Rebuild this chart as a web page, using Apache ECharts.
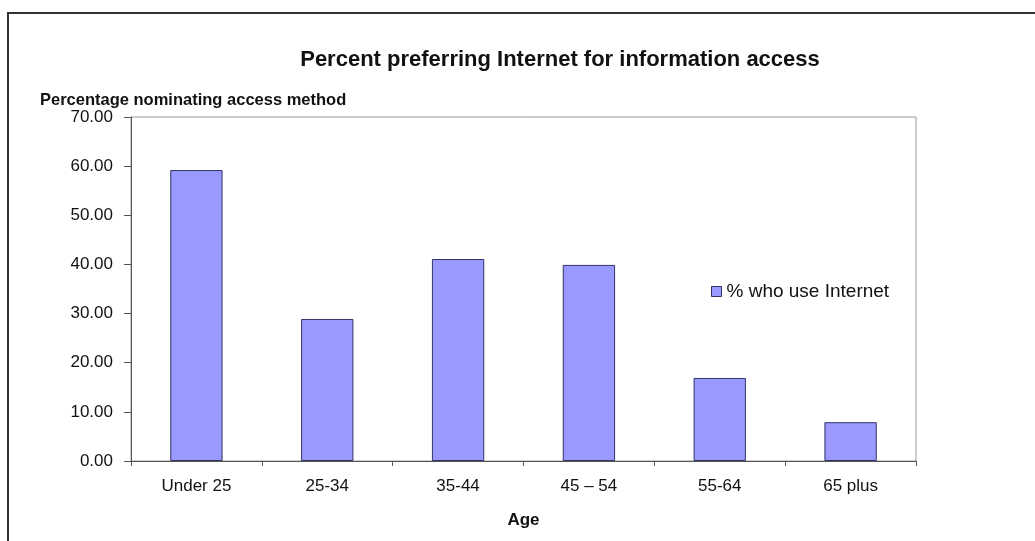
<!DOCTYPE html>
<html style="height: 100%">
   <head>
       <meta charset="utf-8">
   </head>
   <body style="height: 100%; margin: 0; background: #fff">
       <div id="container" style="height: 100%"></div>
       <script type="text/javascript" src="https://cdn.jsdelivr.net/npm/echarts@6/dist/echarts.min.js"></script>
       <script type="text/javascript">
var ages = ['Under 25', '25-34', '35-44', '45 \u2013 54', '55-64', '65 plus'];
var internetPct = [59.2, 28.9, 41.1, 39.9, 16.9, 7.9];
var yTicks = [0, 10, 20, 30, 40, 50, 60, 70];

var dom = document.getElementById("container");
var myChart = echarts.init(dom);
var font = 'Liberation Sans, Arial, sans-serif';
var option = {
    backgroundColor: '#fff',
    animation: false,
    graphic: [{
        type: 'rect',
        shape: {x: 8, y: 13, width: 1040, height: 540},
        style: {fill: 'none', stroke: '#333', lineWidth: 2}
    }],
    title: {
        text: 'Percent preferring Internet for information access',
        left: 555,
        textAlign: 'center',
        top: 44,
        textStyle: {fontFamily: font, fontSize: 22, fontWeight: 'bold', color: '#111'}
    },
    legend: {
        data: ['% who use Internet'],
        left: 706,
        top: 277,
        icon: 'rect',
        itemWidth: 10,
        itemHeight: 10,
        itemGap: 6,
        itemStyle: {borderColor: '#333366', borderWidth: 1},
        textStyle: {fontFamily: font, fontSize: 19, color: '#111'}
    },
    grid: {
        left: 131, right: 119, top: 117, bottom: 80,
        show: true, borderColor: '#999', borderWidth: 1
    },
    xAxis: {
        type: 'category',
        data: ages,
        name: 'Age',
        nameLocation: 'middle',
        nameGap: 51,
        nameTextStyle: {fontFamily: font, fontSize: 17, fontWeight: 'bold', color: '#111'},
        axisLine: {lineStyle: {color: '#555'}},
        axisTick: {show: true, length: 5, lineStyle: {color: '#555'}},
        axisLabel: {fontFamily: font, fontSize: 17, color: '#111', margin: 17}
    },
    yAxis: {
        type: 'value',
        min: yTicks[0],
        max: yTicks[yTicks.length - 1],
        interval: 10,
        name: 'Percentage nominating access method',
        nameLocation: 'end',
        nameGap: 7,
        nameTextStyle: {fontFamily: font, fontSize: 16.5, fontWeight: 'bold', color: '#111', align: 'left', padding: [0, 0, 0, -91]},
        axisLine: {show: true, lineStyle: {color: '#555'}},
        axisTick: {show: true, length: 7, lineStyle: {color: '#555'}},
        splitLine: {show: false},
        axisLabel: {
            fontFamily: font, fontSize: 17, color: '#111', margin: 18,
            formatter: function (v) { return v.toFixed(2); }
        }
    },
    series: [{
        name: '% who use Internet',
        type: 'bar',
        data: internetPct,
        barWidth: '40%',
        itemStyle: {color: '#9999ff', borderColor: '#333366', borderWidth: 1}
    }]
};
myChart.setOption(option);
       </script>
   </body>
</html>
